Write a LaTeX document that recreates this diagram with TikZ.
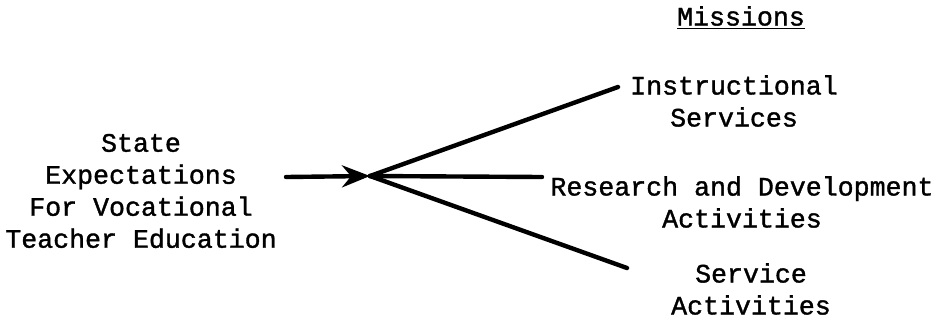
\documentclass[tikz,border=0pt]{standalone}
\usepackage{fontspec}
\newfontfamily\twfont{Liberation Mono}[FakeBold=1.3]
\usetikzlibrary{arrows.meta}
\tikzset{
  lbl/.style={font=\twfont\fontsize{13.3}{16}\selectfont, align=center, inner sep=0pt, text=black},
  conn/.style={line width=2.2pt, line cap=round, black},
}
\begin{document}
\begin{tikzpicture}[x=0.5pt,y=-0.5pt]
\useasboundingbox (0,0) rectangle (939,328);
% text nodes
\node[lbl] (left) at (141,191) {State\\Expectations\\For Vocational\\Teacher Education};
\node[lbl] (miss) at (741,18) {\underline{Missions}};
\node[lbl] (inst) at (734,101) {Instructional\\Services};
\node[lbl] (rd) at (742,202) {Research and Development\\Activities};
\node[lbl] (serv) at (751,289) {Service\\Activities};
% connector points
\coordinate (s) at (286,177);
\coordinate (hub) at (370,176);
\coordinate (e1) at (618,87);
\coordinate (e2) at (542,177);
\coordinate (e3) at (627,268);
\draw[conn, -{Stealth[length=14pt,width=11pt]}] (s) -- (hub);
\draw[conn] (hub) -- (e1);
\draw[conn] (hub) -- (e2);
\draw[conn] (hub) -- (e3);
\end{tikzpicture}
\end{document}
